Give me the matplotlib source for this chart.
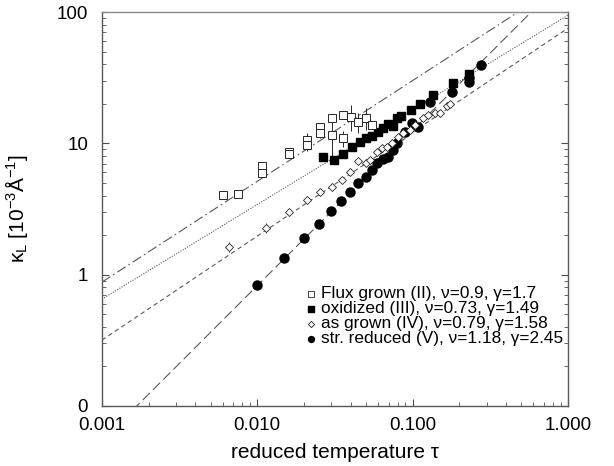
import numpy as np
import matplotlib
matplotlib.use("Agg")
import matplotlib.pyplot as plt
from matplotlib.ticker import FixedLocator, FixedFormatter, LogLocator, NullFormatter

plt.rcParams['font.family'] = ['Liberation Sans', 'DejaVu Sans']
plt.rcParams['mathtext.fontset'] = 'custom'
plt.rcParams['mathtext.rm'] = 'Liberation Sans'
plt.rcParams['mathtext.it'] = 'Liberation Sans'

# ---- data ----
# Flux grown (II) - open squares with error bars
tau_flux = [0.00598, 0.00755, 0.0108, 0.0108, 0.0159, 0.0159, 0.0208, 0.0208,
            0.0255, 0.0255, 0.0301, 0.0301, 0.0354, 0.0354, 0.0401, 0.0447,
            0.0499, 0.0546]
kap_flux = [4.03, 4.15, 6.70, 5.90, 8.61, 8.23, 10.6, 9.69,
            13.4, 11.9, 15.5, 11.5, 16.4, 10.9, 16.0, 14.6,
            15.7, 13.8]
err_flux = [0.15, 0.2, 0.4, 0.4, 0.6, 0.5, 1.5, 1.0,
            0.8, 1.0, 1.2, 3.5, 1.0, 1.5, 3.5, 2.5,
            3.0, 1.0]

# oxidized (III) - filled squares
tau_oxi = [0.0266, 0.0312, 0.0358, 0.0409, 0.0459, 0.0501, 0.0546, 0.0596,
           0.0642, 0.0695, 0.0745, 0.0790, 0.0838, 0.0977, 0.1116, 0.136,
           0.183, 0.232]
kap_oxi = [7.81, 7.45, 8.23, 9.40, 10.3, 10.9, 11.3, 12.2,
           13.0, 14.0, 13.5, 15.5, 16.2, 17.9, 19.9, 23.3,
           28.6, 33.7]

# as grown (IV) - open diamonds
tau_grown = [0.00658, 0.01133, 0.01607, 0.0208, 0.0255, 0.0301, 0.0350, 0.0398,
             0.0447, 0.0498, 0.0532, 0.0587, 0.0633, 0.0681, 0.0734, 0.0809,
             0.0871, 0.0962, 0.1037, 0.117, 0.126, 0.139, 0.150, 0.166, 0.174]
kap_grown = [1.63, 2.27, 3.02, 3.69, 4.27, 4.69, 5.22, 6.01,
             7.32, 7.03, 7.45, 8.61, 9.14, 9.40, 9.98, 11.2,
             11.9, 12.6, 13.8, 15.5, 16.4, 16.9, 16.9, 19.2, 19.9]
err_grown = [0.15, 0.2, 0.15, 0.1, 0.1, 0.1, 0.1, 0.1,
             0.2, 0.1, 0.1, 0.1, 0.1, 0.1, 0.1, 0.1,
             0.1, 0.1, 0.1, 0.1, 0.1, 0.1, 0.1, 0.1, 0.1]

# str. reduced (V) - filled circles
tau_red = [0.00991, 0.01492, 0.0200, 0.0249, 0.0298, 0.0346, 0.0395, 0.0445,
           0.0498, 0.0546, 0.0593, 0.0642, 0.0698, 0.0745, 0.0797, 0.0893,
           0.0998, 0.1088, 0.1295, 0.179, 0.232, 0.232, 0.275]
kap_red = [0.832, 1.33, 1.90, 2.45, 3.06, 3.65, 4.27, 4.95,
           5.56, 6.25, 7.10, 7.54, 7.81, 8.88, 10.1, 12.2,
           14.3, 13.4, 20.7, 24.8, 31.4, 29.5, 39.7]

# power-law fits kappa = A * tau**nu (as drawn)
fit_A = [176.5, 94.7, 75.4, 190.5]
fit_nu = [0.768, 0.721, 0.792, 1.182]
fit_styles = [(0, (9, 3, 1.5, 3)), (0, (1, 1.3)), (0, (4, 3)), (0, (9, 4))]

labels = ["Flux grown (II), \u03bd=0.9, \u03b3=1.7",
          "oxidized (III), \u03bd=0.73, \u03b3=1.49",
          "as grown (IV), \u03bd=0.79, \u03b3=1.58",
          "str. reduced (V), \u03bd=1.18, \u03b3=2.45"]

x_ticks = [0.001, 0.01, 0.1, 1.0]
x_ticklabels = ["0.001", "0.010", "0.100", "1.000"]
y_ticks = [0.1, 1, 10, 100]
y_ticklabels = ["0", "1", "10", "100"]

# ---- figure ----
fig = plt.figure(figsize=(6.14, 4.66), dpi=100)
ax = fig.add_axes([0.166, 0.129, 0.759, 0.845])

tt = np.logspace(-3, 0, 300)
for A, nu, ls in zip(fit_A, fit_nu, fit_styles):
    ax.plot(tt, A * tt**nu, color='0.35', lw=0.8, ls=ls, zorder=1)

ax.errorbar(tau_flux, kap_flux, yerr=err_flux, fmt='s', ms=5.5, mfc='white',
            mec='0.15', mew=0.7, ecolor='0.15', elinewidth=0.7, capsize=0, zorder=3)
ax.plot(tau_oxi, kap_oxi, 's', ms=6, color='black', zorder=3)
ax.errorbar(tau_grown, kap_grown, yerr=err_grown, fmt='D', ms=4.2, mfc='white',
            mec='0.15', mew=0.6, ecolor='0.15', elinewidth=0.6, capsize=0, zorder=3)
ax.plot(tau_red, kap_red, 'o', ms=6.5, color='black', zorder=3)

ax.set_xscale('log')
ax.set_yscale('log')
ax.set_xlim(0.001, 1.0)
ax.set_ylim(0.1, 100)

ax.xaxis.set_major_locator(FixedLocator(x_ticks))
ax.xaxis.set_major_formatter(FixedFormatter(x_ticklabels))
ax.yaxis.set_major_locator(FixedLocator(y_ticks))
ax.yaxis.set_major_formatter(FixedFormatter(y_ticklabels))
ax.xaxis.set_minor_locator(LogLocator(base=10, subs=np.arange(2, 10)))
ax.yaxis.set_minor_locator(LogLocator(base=10, subs=np.arange(2, 10)))
ax.xaxis.set_minor_formatter(NullFormatter())
ax.yaxis.set_minor_formatter(NullFormatter())

ax.tick_params(which='both', direction='in', top=False, right=True,
               labelsize=13.5, color='0.3')
ax.tick_params(which='major', length=5, width=0.8)
ax.tick_params(which='minor', length=3, width=0.6)
ax.tick_params(axis='x', which='major', pad=8)
ax.tick_params(axis='y', which='major', pad=10)
for side, sp in ax.spines.items():
    sp.set_color('0.35' if side != 'top' else '0.55')
    sp.set_linewidth(1.0)

ax.set_xlabel("reduced temperature \u03c4", fontsize=15)
ax.set_ylabel("$\\kappa_L$ [10$^{-3}$\u00c5$^{-1}$]", fontsize=15)
ax.xaxis.set_label_coords(0.5, -0.095)
ax.yaxis.set_label_coords(-0.155, 0.5)

# legend: markers only
h1 = ax.scatter([], [], marker='s', s=14, facecolor='white', edgecolor='0.15', lw=0.6)
h2 = ax.scatter([], [], marker='s', s=14, color='black')
h3 = ax.scatter([], [], marker='D', s=10, facecolor='white', edgecolor='0.15', lw=0.6)
h4 = ax.scatter([], [], marker='o', s=18, color='black')
ax.legend([h1, h2, h3, h4], labels, loc='lower right', bbox_to_anchor=(1.012, 0.125),
          frameon=False, fontsize=12.4, handletextpad=0.15, labelspacing=0.0,
          handlelength=0.9, borderaxespad=0.2)

fig.savefig("out.png", dpi=100)
